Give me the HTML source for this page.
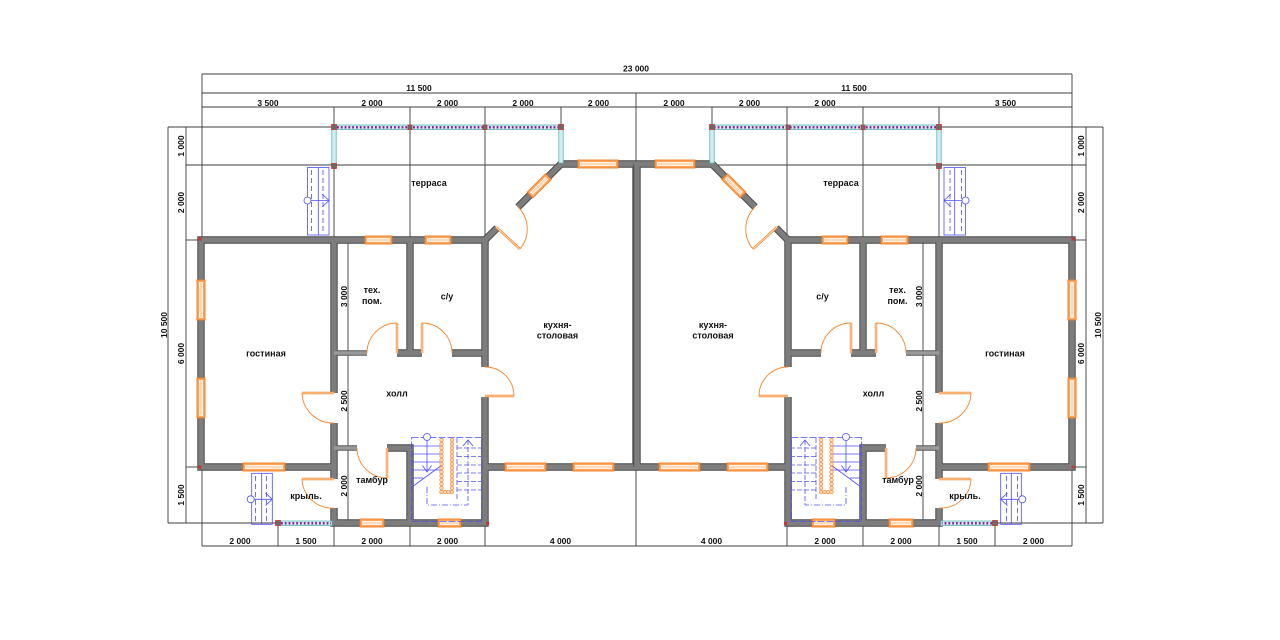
<!DOCTYPE html>
<html>
<head>
<meta charset="utf-8">
<style>
  html,body{margin:0;padding:0;background:#fff;}
  body{width:1280px;height:640px;overflow:hidden;}
  svg{display:block;}
  text{font-family:"Liberation Sans","Noto Sans CJK SC",Arial,sans-serif;font-weight:bold;fill:#111;}
</style>
</head>
<body>
<svg width="1280" height="640" viewBox="0 0 1280 640" xmlns="http://www.w3.org/2000/svg" xmlns:xlink="http://www.w3.org/1999/xlink">
  <rect width="1280" height="640" fill="#fff"/>

  <!-- ============ GRID / DIMENSION LINES ============ -->
  <g stroke="#3c3c3c" stroke-width="0.9" fill="none">
    <line x1="202" y1="74" x2="1072" y2="74"/>
    <line x1="202" y1="93" x2="1072" y2="93"/>
    <line x1="202" y1="107" x2="1072" y2="107"/>
    <line x1="202" y1="546" x2="1072" y2="546"/>
    <line x1="202" y1="74" x2="202" y2="546"/>
    <line x1="1072" y1="74" x2="1072" y2="546"/>
    <line x1="334" y1="107" x2="334" y2="240"/>
    <line x1="410" y1="107" x2="410" y2="240"/>
    <line x1="485" y1="107" x2="485" y2="240"/>
    <line x1="561" y1="107" x2="561" y2="164"/>
    <line x1="636" y1="93" x2="636" y2="164"/>
    <line x1="712" y1="107" x2="712" y2="164"/>
    <line x1="787" y1="107" x2="787" y2="240"/>
    <line x1="863" y1="107" x2="863" y2="240"/>
    <line x1="939" y1="107" x2="939" y2="240"/>
    <line x1="278" y1="523" x2="278" y2="546"/>
    <line x1="334" y1="523" x2="334" y2="546"/>
    <line x1="410" y1="523" x2="410" y2="546"/>
    <line x1="485" y1="523" x2="485" y2="546"/>
    <line x1="636" y1="467" x2="636" y2="546"/>
    <line x1="787" y1="523" x2="787" y2="546"/>
    <line x1="863" y1="523" x2="863" y2="546"/>
    <line x1="939" y1="523" x2="939" y2="546"/>
    <line x1="995" y1="523" x2="995" y2="546"/>
    <line x1="168" y1="127" x2="334" y2="127"/>
    <line x1="712" y1="127" x2="1103" y2="127"/>
    <line x1="186" y1="165" x2="1086" y2="165"/>
    <line x1="186" y1="240" x2="201" y2="240"/>
    <line x1="1072" y1="240" x2="1086" y2="240"/>
    <line x1="186" y1="467" x2="201" y2="467"/>
    <line x1="1072" y1="467" x2="1086" y2="467"/>
    <line x1="168" y1="523" x2="278" y2="523"/>
    <line x1="995" y1="523" x2="1103" y2="523"/>
    <line x1="168" y1="127" x2="168" y2="523"/>
    <line x1="186" y1="127" x2="186" y2="523"/>
    <line x1="1086" y1="127" x2="1086" y2="523"/>
    <line x1="1103" y1="127" x2="1103" y2="523"/>
    <line x1="348" y1="240" x2="348" y2="523"/>
    <line x1="337" y1="240" x2="348" y2="240"/>
    <line x1="337" y1="523" x2="348" y2="523"/>
    <line x1="923" y1="240" x2="923" y2="523"/>
    <line x1="923" y1="240" x2="935" y2="240"/>
    <line x1="923" y1="523" x2="935" y2="523"/>
  </g>

  <!-- ============ LEFT HALF (mirrored for right) ============ -->
  <g id="L">
    <g fill="none" stroke="#4d4d4d" stroke-width="7.4" stroke-linejoin="miter">
      <path d="M497 228 L485 240 L201 240 L201 467 L334 467"/>
      <path d="M518 207 L561 164 L637 164"/>
      <path d="M636 164 L636 467"/>
      <path d="M334 240 L334 393"/>
      <path d="M334 423 L334 479"/>
      <path d="M334 508 L334 523 L485 523 L485 397"/>
      <path d="M485 240 L485 367"/>
      <path d="M485 467 L637 467"/>
      <path d="M410 240 L410 353"/>
      <path d="M397 353 L422 353"/>
      <path d="M452 353 L485 353"/>
      <path d="M387 448 L410 448 L410 523"/>
    </g>
    <g fill="none" stroke="#5a5a5a" stroke-width="5.6">
      <path d="M334 353 L367 353"/>
      <path d="M334 448 L357 448"/>
    </g>
    <g fill="none" stroke="#7d7d7d" stroke-width="5.4" stroke-linejoin="miter">
      <path d="M497 228 L485 240 L201 240 L201 467 L334 467"/>
      <path d="M518 207 L561 164 L637 164"/>
      <path d="M636 164 L636 467"/>
      <path d="M334 240 L334 393"/>
      <path d="M334 423 L334 479"/>
      <path d="M334 508 L334 523 L485 523 L485 397"/>
      <path d="M485 240 L485 367"/>
      <path d="M485 467 L637 467"/>
      <path d="M410 240 L410 353"/>
      <path d="M397 353 L422 353"/>
      <path d="M452 353 L485 353"/>
      <path d="M387 448 L410 448 L410 523"/>
    </g>
    <g fill="none" stroke="#9a9a9a" stroke-width="3.6">
      <path d="M334 353 L367 353"/>
      <path d="M334 448 L357 448"/>
    </g>

    <!-- windows -->
    <g stroke-width="0.9">
      <g transform="translate(365,240)"><rect x="0" y="-4" width="27" height="8" fill="#ffa65e" stroke="#f27a1c"/><rect x="2.5" y="-1.6" width="22" height="3.2" fill="#ffd9b8" stroke="#fff" stroke-width="0.7"/></g>
      <g transform="translate(425,240)"><rect x="0" y="-4" width="26" height="8" fill="#ffa65e" stroke="#f27a1c"/><rect x="2.5" y="-1.6" width="21" height="3.2" fill="#ffd9b8" stroke="#fff" stroke-width="0.7"/></g>
      <g transform="translate(578,164)"><rect x="0" y="-4" width="40" height="8" fill="#ffa65e" stroke="#f27a1c"/><rect x="2.5" y="-1.6" width="35" height="3.2" fill="#ffd9b8" stroke="#fff" stroke-width="0.7"/></g>
      <g transform="translate(243,467)"><rect x="0" y="-4" width="42" height="8" fill="#ffa65e" stroke="#f27a1c"/><rect x="2.5" y="-1.6" width="37" height="3.2" fill="#ffd9b8" stroke="#fff" stroke-width="0.7"/></g>
      <g transform="translate(360,523)"><rect x="0" y="-4" width="24" height="8" fill="#ffa65e" stroke="#f27a1c"/><rect x="2.5" y="-1.6" width="19" height="3.2" fill="#ffd9b8" stroke="#fff" stroke-width="0.7"/></g>
      <g transform="translate(438,523)"><rect x="0" y="-4" width="23" height="8" fill="#ffa65e" stroke="#f27a1c"/><rect x="2.5" y="-1.6" width="18" height="3.2" fill="#ffd9b8" stroke="#fff" stroke-width="0.7"/></g>
      <g transform="translate(505,467)"><rect x="0" y="-4" width="41" height="8" fill="#ffa65e" stroke="#f27a1c"/><rect x="2.5" y="-1.6" width="36" height="3.2" fill="#ffd9b8" stroke="#fff" stroke-width="0.7"/></g>
      <g transform="translate(573,467)"><rect x="0" y="-4" width="41" height="8" fill="#ffa65e" stroke="#f27a1c"/><rect x="2.5" y="-1.6" width="36" height="3.2" fill="#ffd9b8" stroke="#fff" stroke-width="0.7"/></g>
      <g transform="translate(201,280) rotate(90)"><rect x="0" y="-4" width="40" height="8" fill="#ffa65e" stroke="#f27a1c"/><rect x="2.5" y="-1.6" width="35" height="3.2" fill="#ffd9b8" stroke="#fff" stroke-width="0.7"/></g>
      <g transform="translate(201,378) rotate(90)"><rect x="0" y="-4" width="40" height="8" fill="#ffa65e" stroke="#f27a1c"/><rect x="2.5" y="-1.6" width="35" height="3.2" fill="#ffd9b8" stroke="#fff" stroke-width="0.7"/></g>
      <g transform="translate(530,195) rotate(-45)"><rect x="0" y="-4" width="26" height="8" fill="#ffa65e" stroke="#f27a1c"/><rect x="2.5" y="-1.6" width="21" height="3.2" fill="#ffd9b8" stroke="#fff" stroke-width="0.7"/></g>
    </g>

    <!-- doors -->
    <g fill="none">
      <g stroke="#f7852a" stroke-width="2.4">
        <path d="M496 227 L520 249"/>
        <path d="M485 396 L514 396"/>
        <path d="M397 353 L397 323"/>
        <path d="M422 353 L422 323"/>
        <path d="M334 393 L302 393"/>
        <path d="M387 448 L387 478"/>
        <path d="M334 479 L302 479"/>
      </g>
      <g stroke="#fff3ea" stroke-width="0.8">
        <path d="M496 227 L520 249"/>
        <path d="M485 396 L514 396"/>
        <path d="M397 353 L397 323"/>
        <path d="M422 353 L422 323"/>
        <path d="M334 393 L302 393"/>
        <path d="M387 448 L387 478"/>
        <path d="M334 479 L302 479"/>
      </g>
      <g stroke="#f7852a" stroke-width="0.9">
        <path d="M520 249 A31 31 0 0 0 518 207"/>
        <path d="M514 396 A29 29 0 0 0 485 367"/>
        <path d="M397 323 A30 30 0 0 0 367 353"/>
        <path d="M422 323 A30 30 0 0 1 452 353"/>
        <path d="M302 393 A31 31 0 0 0 334 423"/>
        <path d="M387 478 A30 30 0 0 1 357 448"/>
        <path d="M302 479 A30 30 0 0 0 334 508"/>
      </g>
    </g>

    <!-- terrace railing -->
    <rect x="334" y="125" width="227" height="4.6" fill="#d2eded" stroke="#5fb6b6" stroke-width="0.8"/>
    <line x1="337" y1="127.3" x2="559" y2="127.3" stroke="#7f1d9e" stroke-width="2.3" stroke-dasharray="1.8 2"/>
    <rect x="331.8" y="127" width="4.4" height="38" fill="#d2eded" stroke="#5fb6b6" stroke-width="0.8"/>
    <rect x="558.8" y="127" width="4.4" height="36" fill="#d2eded" stroke="#5fb6b6" stroke-width="0.8"/>
    <g fill="#6a6a6a" stroke="#cc3333" stroke-width="0.8">
      <rect x="331.5" y="124.5" width="5" height="5"/>
      <rect x="408" y="125" width="4" height="4.5"/>
      <rect x="483" y="125" width="4" height="4.5"/>
      <rect x="558.5" y="124.5" width="5" height="5"/>
      <rect x="331.5" y="163.5" width="5" height="5"/>
    </g>

    <!-- porch railing -->
    <rect x="278" y="521" width="54" height="4.6" fill="#d2eded" stroke="#5fb6b6" stroke-width="0.8"/>
    <line x1="281" y1="523.3" x2="331" y2="523.3" stroke="#7f1d9e" stroke-width="2.3" stroke-dasharray="1.8 2"/>
    <rect x="275.5" y="520.5" width="5" height="5" fill="#6a6a6a" stroke="#cc3333" stroke-width="0.8"/>
    <rect x="198.5" y="237.5" width="3" height="3" fill="#cc3333"/>
    <rect x="198.5" y="465.5" width="3" height="3" fill="#cc3333"/>
    <rect x="486" y="522" width="3" height="3" fill="#cc3333"/>

    <!-- terrace step -->
    <g stroke="#4d4dff" stroke-width="0.8" fill="none">
      <rect x="307.5" y="167.5" width="21.5" height="67.5"/>
      <line x1="318.3" y1="167.5" x2="318.3" y2="235"/>
      <line x1="311.5" y1="170" x2="311.5" y2="233" stroke-dasharray="5 3"/>
      <line x1="323" y1="170" x2="323" y2="233" stroke-dasharray="5 3"/>
      <line x1="311" y1="200.5" x2="329" y2="200.5"/>
      <polyline points="322,194 329,200.5 322,207"/>
      <circle cx="307.5" cy="200.5" r="3.5" fill="#fff"/>
    </g>
    <!-- porch step -->
    <g stroke="#4d4dff" stroke-width="0.8" fill="none">
      <rect x="251.7" y="473.3" width="20.6" height="51"/>
      <line x1="261.7" y1="473.3" x2="261.7" y2="524"/>
      <line x1="255.5" y1="476" x2="255.5" y2="522" stroke-dasharray="5 3"/>
      <line x1="266.5" y1="476" x2="266.5" y2="522" stroke-dasharray="5 3"/>
      <line x1="254" y1="499.3" x2="272.3" y2="499.3"/>
      <polyline points="265.5,493 272.3,499.3 265.5,505.6"/>
      <circle cx="250.7" cy="499.3" r="3.5" fill="#fff"/>
    </g>

    <!-- stair -->
    <g stroke="#5050ff" stroke-width="0.8" fill="none">
      <rect x="411.5" y="437.5" width="70" height="84" stroke-dasharray="7 2"/>
      <line x1="412" y1="446" x2="440" y2="446"/>
      <line x1="412" y1="454" x2="440" y2="454"/>
      <line x1="412" y1="462" x2="440" y2="462"/>
      <line x1="412" y1="470" x2="440" y2="470"/>
      <line x1="412" y1="478" x2="423" y2="478"/>
      <line x1="412" y1="487" x2="442" y2="465"/>
      <line x1="427" y1="440.5" x2="427" y2="472"/>
      <polyline points="422.5,465.5 427,472 431.5,465.5"/>
      <circle cx="427" cy="437" r="3.5" fill="#fff"/>
      <g stroke-dasharray="5 2">
        <line x1="457" y1="438" x2="457" y2="500"/>
        <line x1="457" y1="448" x2="482" y2="448"/>
        <line x1="457" y1="456.5" x2="482" y2="456.5"/>
        <line x1="457" y1="465" x2="482" y2="465"/>
        <line x1="457" y1="473" x2="482" y2="473"/>
        <line x1="457" y1="481.5" x2="482" y2="481.5"/>
        <line x1="457" y1="490" x2="482" y2="490"/>
        <line x1="468" y1="440" x2="468" y2="505"/>
      </g>
      <polyline points="463,446 468,440 473,446"/>
      <path d="M427 487 L427 505 L468 505" stroke-dasharray="6 2 1 2"/>
    </g>
    <g stroke="#f08a3a" stroke-width="0.7" fill="#ffdcbc">
      <circle cx="441.5" cy="440" r="1.7"/><circle cx="441.5" cy="444" r="1.7"/><circle cx="441.5" cy="448" r="1.7"/><circle cx="441.5" cy="452" r="1.7"/><circle cx="441.5" cy="456" r="1.7"/><circle cx="441.5" cy="460" r="1.7"/><circle cx="441.5" cy="464" r="1.7"/><circle cx="441.5" cy="468" r="1.7"/><circle cx="441.5" cy="472" r="1.7"/><circle cx="441.5" cy="476" r="1.7"/><circle cx="441.5" cy="480" r="1.7"/><circle cx="441.5" cy="484" r="1.7"/><circle cx="441.5" cy="488" r="1.7"/><circle cx="441.5" cy="492" r="1.7"/>
      <circle cx="452" cy="440" r="1.7"/><circle cx="452" cy="444" r="1.7"/><circle cx="452" cy="448" r="1.7"/><circle cx="452" cy="452" r="1.7"/><circle cx="452" cy="456" r="1.7"/><circle cx="452" cy="460" r="1.7"/><circle cx="452" cy="464" r="1.7"/><circle cx="452" cy="468" r="1.7"/><circle cx="452" cy="472" r="1.7"/><circle cx="452" cy="476" r="1.7"/><circle cx="452" cy="480" r="1.7"/><circle cx="452" cy="484" r="1.7"/><circle cx="452" cy="488" r="1.7"/><circle cx="452" cy="492" r="1.7"/>
      <circle cx="445" cy="492" r="1.7"/><circle cx="448.5" cy="492" r="1.7"/>
    </g>
  </g>

  <!-- mirrored right half -->
  <use xlink:href="#L" href="#L" transform="matrix(-1 0 0 1 1273 0)"/>

  <!-- ============ DIMENSION TEXT ============ -->
  <g font-size="8.5" text-anchor="middle">
    <text x="636" y="71.5">23 000</text>
    <text x="419" y="91">11 500</text>
    <text x="854" y="91">11 500</text>
    <text x="268" y="106">3 500</text>
    <text x="372" y="106">2 000</text>
    <text x="447.5" y="106">2 000</text>
    <text x="523" y="106">2 000</text>
    <text x="598.5" y="106">2 000</text>
    <text x="674" y="106">2 000</text>
    <text x="749.5" y="106">2 000</text>
    <text x="825" y="106">2 000</text>
    <text x="1005.5" y="106">3 500</text>

    <text x="240" y="544">2 000</text>
    <text x="306" y="544">1 500</text>
    <text x="372" y="544">2 000</text>
    <text x="447.5" y="544">2 000</text>
    <text x="560.5" y="544">4 000</text>
    <text x="711.5" y="544">4 000</text>
    <text x="825" y="544">2 000</text>
    <text x="901" y="544">2 000</text>
    <text x="967" y="544">1 500</text>
    <text x="1033.5" y="544">2 000</text>

    <text transform="translate(183.8,146) rotate(-90)">1 000</text>
    <text transform="translate(183.8,202.5) rotate(-90)">2 000</text>
    <text transform="translate(183.8,353.5) rotate(-90)">6 000</text>
    <text transform="translate(183.8,495) rotate(-90)">1 500</text>
    <text transform="translate(167,325) rotate(-90)">10 500</text>
    <text transform="translate(347,296.5) rotate(-90)">3 000</text>
    <text transform="translate(347,401) rotate(-90)">2 500</text>
    <text transform="translate(347,486) rotate(-90)">2 000</text>
    <text transform="translate(1084,146) rotate(-90)">1 000</text>
    <text transform="translate(1084,202.5) rotate(-90)">2 000</text>
    <text transform="translate(1084,353.5) rotate(-90)">6 000</text>
    <text transform="translate(1084,495) rotate(-90)">1 500</text>
    <text transform="translate(1101,325) rotate(-90)">10 500</text>
    <text transform="translate(922,296.5) rotate(-90)">3 000</text>
    <text transform="translate(922,401) rotate(-90)">2 500</text>
    <text transform="translate(922,486) rotate(-90)">2 000</text>
  </g>

  <!-- ============ ROOM LABELS ============ -->
  <g font-size="9" text-anchor="middle">
    <text x="429" y="186">терраса</text>
    <text x="841" y="186">терраса</text>
    <text x="266" y="356.5">гостиная</text>
    <text x="1005" y="356.5">гостиная</text>
    <text x="372" y="293">тех.</text>
    <text x="372" y="304">пом.</text>
    <text x="897.5" y="293">тех.</text>
    <text x="897.5" y="304">пом.</text>
    <text x="447" y="299.5">с/у</text>
    <text x="822.5" y="299.5">с/у</text>
    <text x="397" y="396.5">холл</text>
    <text x="873.5" y="396.5">холл</text>
    <text x="372" y="483">тамбур</text>
    <text x="898" y="483">тамбур</text>
    <text x="306" y="499">крыль.</text>
    <text x="965" y="499">крыль.</text>
    <text x="557.5" y="328">кухня-</text>
    <text x="557.5" y="338.5">столовая</text>
    <text x="713" y="328">кухня-</text>
    <text x="713" y="338.5">столовая</text>
  </g>
</svg>
</body>
</html>
